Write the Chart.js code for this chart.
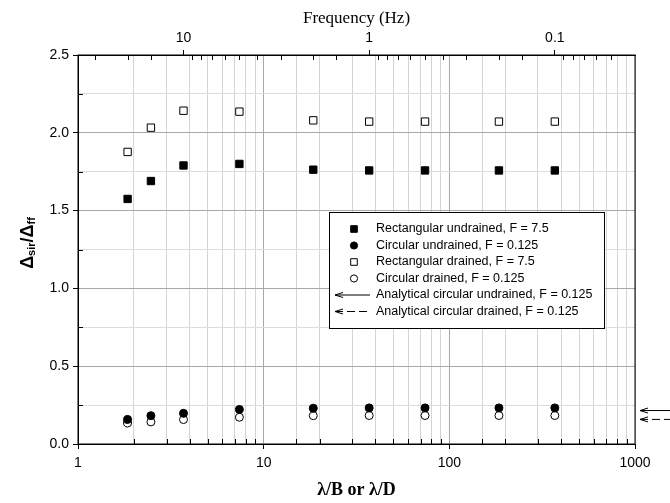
<!DOCTYPE html>
<html>
<head>
<meta charset="utf-8">
<script src="https://cdn.jsdelivr.net/npm/chart.js@4.4.0/dist/chart.umd.min.js"></script>
<style>
html, body { margin: 0; padding: 0; background: #fff; }
#wrap { width: 670px; height: 503px; }
</style>
</head>
<body>
<div id="wrap"><canvas id="myChart"></canvas></div>
<script>
// lambda/B (or lambda/D) at each test frequency
var lambdaRatio = [1.85, 2.47, 3.7, 7.4, 18.5, 37, 74, 185, 370];
var rectUndrained = [1.575, 1.69, 1.79, 1.80, 1.763, 1.758, 1.758, 1.758, 1.758];
var circUndrained = [0.158, 0.182, 0.197, 0.222, 0.23, 0.232, 0.232, 0.232, 0.232];
var rectDrained = [1.877, 2.033, 2.142, 2.136, 2.08, 2.072, 2.072, 2.072, 2.072];
var circDrained = [0.135, 0.142, 0.157, 0.172, 0.182, 0.183, 0.183, 0.183, 0.183];
// analytical circular solutions (arrows on the right edge)
var analyticalValues = [0.215, 0.158];

var seriesLabels = ["Rectangular undrained, F = 7.5", "Circular undrained, F = 0.125",
                    "Rectangular drained, F = 7.5", "Circular drained, F = 0.125"];
var analyticalLabels = ["Analytical circular undrained, F = 0.125",
                        "Analytical circular drained, F = 0.125"];

var freqFactor = 37;           // frequency (Hz) = 37 / (lambda/B)
var xRange = [1, 1000];
var yRange = [0, 2.5];

var sans = "'Liberation Sans', Arial, sans-serif";
var serif = "'Liberation Serif', 'Times New Roman', serif";

function pts(ys) {
  return ys.map(function (y, i) { return { x: lambdaRatio[i], y: y }; });
}
function isDecade(v) {
  var l = Math.log10(v);
  return Math.abs(l - Math.round(l)) < 1e-6;
}
function isHalf(v) {
  return Math.round(v * 100) % 50 === 0;
}

var seriesData = [rectUndrained, circUndrained, rectDrained, circDrained];
var seriesStyle = [
  { shape: 'rect', fill: '#000', r: 5.2 },
  { shape: 'circle', fill: '#000', r: 4 },
  { shape: 'rect', fill: '#fff', r: 5.2 },
  { shape: 'circle', fill: '#fff', r: 4 }
];

var datasets = seriesData.map(function (d, i) {
  return {
    label: seriesLabels[i],
    data: pts(d),
    pointStyle: seriesStyle[i].shape,
    pointRadius: seriesStyle[i].r,
    pointBackgroundColor: seriesStyle[i].fill,
    pointBorderColor: '#000',
    pointBorderWidth: 1,
    showLine: false
  };
});

function arrow(ctx, x0, x1, y, dashed) {
  ctx.save();
  ctx.strokeStyle = '#000';
  ctx.lineWidth = 1;
  if (dashed) ctx.setLineDash([8, 4]);
  ctx.beginPath();
  ctx.moveTo(x0, y);
  ctx.lineTo(x1, y);
  ctx.stroke();
  ctx.setLineDash([]);
  ctx.beginPath();
  ctx.moveTo(x0 + 8, y - 2.5);
  ctx.lineTo(x0, y);
  ctx.lineTo(x0 + 8, y + 2.5);
  ctx.stroke();
  ctx.restore();
}

var extras = {
  id: 'extras',
  afterDraw: function (chart) {
    var ctx = chart.ctx;
    var a = chart.chartArea;
    var ys = chart.scales.y, xs = chart.scales.x, x2 = chart.scales.x2;

    // frame
    ctx.save();
    ctx.strokeStyle = '#000';
    ctx.lineWidth = 1;
    ctx.strokeRect(a.left, a.top, a.right - a.left, a.bottom - a.top);

    // minor ticks pointing into the plot
    ctx.beginPath();
    xs.ticks.forEach(function (t) {
      if (isDecade(t.value)) return;
      var p = Math.round(xs.getPixelForValue(t.value)) + 0.5;
      ctx.moveTo(p, a.bottom); ctx.lineTo(p, a.bottom - 5);
    });
    x2.ticks.forEach(function (t) {
      if (isDecade(t.value)) return;
      var p = Math.round(x2.getPixelForValue(t.value)) + 0.5;
      if (p <= a.left + 1 || p >= a.right - 1) return;
      ctx.moveTo(p, a.top); ctx.lineTo(p, a.top + 5);
    });
    ys.ticks.forEach(function (t) {
      if (isHalf(t.value)) return;
      var p = Math.round(ys.getPixelForValue(t.value)) + 0.5;
      ctx.moveTo(a.left, p); ctx.lineTo(a.left + 5, p);
    });
    ctx.stroke();
    ctx.restore();

    // analytical arrows outside the right edge
    analyticalValues.forEach(function (v, i) {
      arrow(ctx, a.right + 5, chart.width, ys.getPixelForValue(v), i === 1);
    });

    // legend box
    var bx = 329, by = 212, bw = 275, bh = 116;
    ctx.save();
    ctx.fillStyle = '#fff';
    ctx.fillRect(bx, by, bw, bh);
    ctx.strokeStyle = '#000';
    ctx.lineWidth = 1;
    ctx.strokeRect(bx + 0.5, by + 0.5, bw, bh);
    ctx.font = '12.5px ' + sans;
    ctx.fillStyle = '#000';
    ctx.textBaseline = 'middle';
    var rowH = 16.5, y0 = by + 17, mx = bx + 25, tx = bx + 47;
    chart.data.datasets.forEach(function (ds, i) {
      var yy = y0 + i * rowH;
      ctx.save();
      ctx.fillStyle = ds.pointBackgroundColor;
      ctx.strokeStyle = '#000';
      ctx.beginPath();
      if (ds.pointStyle === 'rect') {
        var s = 3.3;
        ctx.rect(mx - s, yy - s, 2 * s, 2 * s);
      } else {
        ctx.arc(mx, yy, 3.6, 0, Math.PI * 2);
      }
      ctx.fill();
      ctx.stroke();
      ctx.restore();
      ctx.fillText(ds.label, tx, yy);
    });
    analyticalLabels.forEach(function (lab, i) {
      var yy = y0 + (4 + i) * rowH;
      arrow(ctx, bx + 6, bx + 41, yy, i === 1);
      ctx.fillText(lab, tx, yy);
    });
    ctx.restore();

    // y-axis title with subscripts
    ctx.save();
    ctx.translate(27, 243);
    ctx.rotate(-Math.PI / 2);
    var parts = [['\u0394', 18, 0], ['sir', 11, 4], ['/\u0394', 18, 0], ['ff', 11, 4]];
    var total = 0;
    parts.forEach(function (p) { ctx.font = 'bold ' + p[1] + 'px ' + sans; total += ctx.measureText(p[0]).width; });
    var cx = -total / 2;
    ctx.fillStyle = '#000';
    ctx.textBaseline = 'middle';
    parts.forEach(function (p) {
      ctx.font = 'bold ' + p[1] + 'px ' + sans;
      ctx.fillText(p[0], cx, p[2] + 1);
      cx += ctx.measureText(p[0]).width;
    });
    ctx.restore();
  }
};

new Chart(document.getElementById('myChart'), {
  type: 'scatter',
  data: { datasets: datasets },
  options: {
    responsive: true,
    maintainAspectRatio: false,
    animation: false,
    layout: { padding: { left: 33, right: 35, top: 0, bottom: 0 } },
    plugins: { legend: { display: false }, tooltip: { enabled: false } },
    scales: {
      x: {
        type: 'logarithmic',
        position: 'bottom',
        min: xRange[0],
        max: xRange[1],
        afterFit: function (s) { s.height = 59; },
        border: { color: '#000' },
        grid: {
          color: function (c) { return isDecade(c.tick.value) ? '#a8a8a8' : '#d4d4d4'; },
          tickColor: function (c) { return isDecade(c.tick.value) ? '#000' : 'rgba(0,0,0,0)'; },
          tickLength: 5
        },
        ticks: {
          autoSkip: false,
          maxRotation: 0,
          padding: 6,
          color: '#000',
          font: { family: sans, size: 14 },
          callback: function (v) { return isDecade(v) ? String(v) : ''; }
        },
        title: {
          display: true,
          text: '\u03bb/B or \u03bb/D',
          color: '#000',
          font: { family: serif, size: 18, weight: 'bold' },
          padding: { top: 2, bottom: 2 }
        }
      },
      x2: {
        type: 'logarithmic',
        position: 'top',
        reverse: true,
        min: freqFactor / xRange[1],
        max: freqFactor / xRange[0],
        afterFit: function (s) { s.height = 55; },
        border: { color: '#000' },
        grid: {
          drawOnChartArea: false,
          tickColor: function (c) { return isDecade(c.tick.value) ? '#000' : 'rgba(0,0,0,0)'; },
          tickLength: 5
        },
        ticks: {
          autoSkip: false,
          maxRotation: 0,
          padding: 3,
          color: '#000',
          font: { family: sans, size: 14 },
          callback: function (v) { return isDecade(v) ? String(v) : ''; }
        },
        title: {
          display: true,
          text: 'Frequency (Hz)',
          color: '#000',
          font: { family: serif, size: 17 },
          padding: { top: 8, bottom: 2 }
        }
      },
      y: {
        min: yRange[0],
        max: yRange[1],
        afterFit: function (s) { s.width = 45; },
        border: { color: '#000' },
        grid: {
          color: function (c) { return isHalf(c.tick.value) ? '#a8a8a8' : '#dcdcdc'; },
          tickColor: function (c) { return isHalf(c.tick.value) ? '#000' : 'rgba(0,0,0,0)'; },
          tickLength: 5
        },
        ticks: {
          stepSize: 0.25,
          padding: 4,
          color: '#000',
          font: { family: sans, size: 14 },
          callback: function (v) { return isHalf(v) ? v.toFixed(1) : ''; }
        }
      }
    }
  },
  plugins: [extras]
});
</script>
</body>
</html>
